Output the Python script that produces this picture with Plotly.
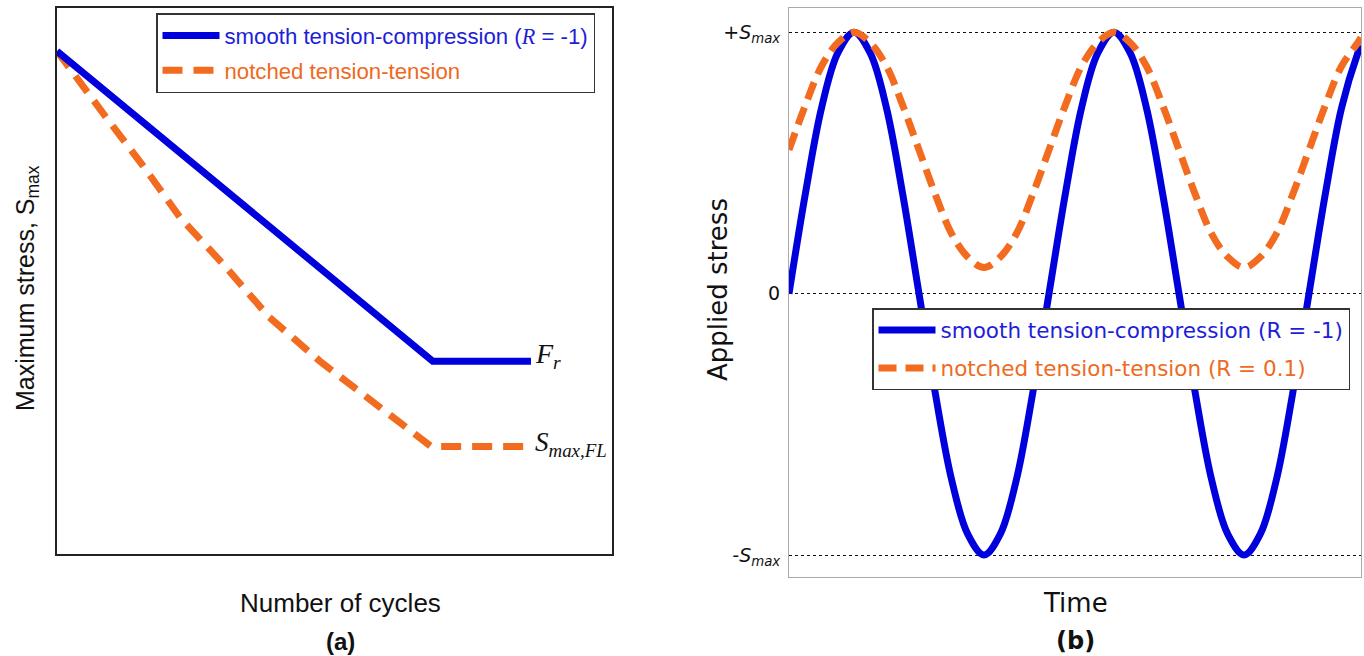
import plotly.graph_objects as go

W, H = 1364, 656
BLUE = "#0000DD"
ORANGE = "#F26B1F"
BLUE_TXT = "#1E1ED8"
ORANGE_TXT = "#EE6A1E"

# ---- panel (a): S-N style curves (arbitrary units) ----
cycles_smooth = [0.0, 67.7, 85.4]
stress_smooth = [92.1, 35.3, 35.3]
cycles_notched = [0.0, 3.2, 8.9, 15.5, 22.2, 30.2, 38.2, 47.5, 56.8, 66.1, 67.4, 85.4]
stress_notched = [92.1, 87.9, 79.9, 71.1, 61.6, 52.8, 43.4, 35.2, 27.8, 20.4, 19.7, 19.7]

# ---- panel (b): applied stress vs time (time in cycles, stress in S_max units) ----
time_b = [0.0, 0.0625, 0.125, 0.1875, 0.25, 0.3125, 0.375, 0.4375,
          0.5, 0.5625, 0.625, 0.6875, 0.75, 0.8125, 0.875, 0.9375,
          1.0, 1.0625, 1.125, 1.1875, 1.25, 1.3125, 1.375, 1.4375,
          1.5, 1.5625, 1.625, 1.6875, 1.75, 1.8125, 1.875, 1.9375,
          2.0, 2.0625, 2.125, 2.1875, 2.2]
stress_smooth_b = [0.0, 0.38, 0.71, 0.92, 1.0, 0.92, 0.71, 0.38,
                   0.0, -0.38, -0.71, -0.92, -1.0, -0.92, -0.71, -0.38,
                   0.0, 0.38, 0.71, 0.92, 1.0, 0.92, 0.71, 0.38,
                   0.0, -0.38, -0.71, -0.92, -1.0, -0.92, -0.71, -0.38,
                   0.0, 0.38, 0.71, 0.92, 0.95]
stress_notched_b = [0.55, 0.72, 0.87, 0.96, 1.0, 0.96, 0.87, 0.72,
                    0.55, 0.38, 0.23, 0.14, 0.1, 0.14, 0.23, 0.38,
                    0.55, 0.72, 0.87, 0.96, 1.0, 0.96, 0.87, 0.72,
                    0.55, 0.38, 0.23, 0.14, 0.1, 0.14, 0.23, 0.38,
                    0.55, 0.72, 0.87, 0.96, 0.98]
ytick_vals = [-1, 0, 1]
ytick_text = ["<i>-S<sub>max</sub></i>", "0", "<i>+S<sub>max</sub></i>"]


def px_x(p):
    return p / W


def px_y(p):
    return 1 - p / H


fig = go.Figure()

serifR = '<span style="font-family:Liberation Serif;font-style:italic;">R</span>'

# panel (a): orange drawn first so the blue line lies on top
fig.add_trace(go.Scatter(
    x=cycles_notched, y=stress_notched, mode="lines",
    line=dict(color=ORANGE, width=7, dash="20px,11px"),
    name=f'<span style="color:{ORANGE_TXT}">notched tension-tension</span>',
    xaxis="x", yaxis="y", legend="legend", legendgroup="a2", legendrank=2))
fig.add_trace(go.Scatter(
    x=cycles_smooth, y=stress_smooth, mode="lines",
    line=dict(color=BLUE, width=7),
    name=f'<span style="color:{BLUE_TXT}">smooth tension-compression ({serifR} = -1)</span>',
    xaxis="x", yaxis="y", legend="legend", legendgroup="a1", legendrank=1))

# panel (b)
fig.add_trace(go.Scatter(
    x=time_b, y=stress_smooth_b, mode="lines",
    line=dict(color=BLUE, width=7, shape="spline", smoothing=1),
    name=f'<span style="color:{BLUE_TXT}">smooth tension-compression (R = -1)</span>',
    xaxis="x2", yaxis="y2", legend="legend2", legendgroup="b1", legendrank=1))
fig.add_trace(go.Scatter(
    x=time_b, y=stress_notched_b, mode="lines",
    line=dict(color=ORANGE, width=7, dash="18px,9px", shape="spline", smoothing=1),
    name=f'<span style="color:{ORANGE_TXT}">notched tension-tension (R = 0.1)</span>',
    xaxis="x2", yaxis="y2", legend="legend2", legendgroup="b2", legendrank=2))

fig.update_layout(
    width=W, height=H,
    margin=dict(l=0, r=0, t=0, b=0),
    paper_bgcolor="white", plot_bgcolor="white",
    showlegend=True,
    xaxis=dict(domain=[px_x(57), px_x(612)], range=[0, 100],
               showgrid=False, zeroline=False, showticklabels=False, ticks="",
               showline=True, linecolor="#222", linewidth=1.5, mirror=True),
    yaxis=dict(domain=[px_y(554), px_y(8)], range=[0, 100],
               showgrid=False, zeroline=False, showticklabels=False, ticks="",
               showline=True, linecolor="#222", linewidth=1.5, mirror=True),
    xaxis2=dict(domain=[px_x(789), px_x(1361)], range=[0, 2.2], anchor="y2",
                showgrid=False, zeroline=False, showticklabels=False, ticks="",
                showline=True, linecolor="#aaaaaa", linewidth=1, mirror=True),
    yaxis2=dict(domain=[px_y(577), px_y(8)], range=[-1.084, 1.093], anchor="x2",
                tickvals=ytick_vals, ticktext=ytick_text,
                tickfont=dict(family="DejaVu Sans", size=19, color="#111"),
                showgrid=True, gridcolor="#111", gridwidth=1, griddash="dot",
                zeroline=False, ticks="", ticklabelstandoff=4,
                showline=True, linecolor="#aaaaaa", linewidth=1, mirror=True),
    legend=dict(x=px_x(156), y=px_y(13), xanchor="left", yanchor="top",
                bgcolor="white", bordercolor="#333", borderwidth=1.5,
                font=dict(family="Liberation Sans", size=22.2),
                itemwidth=57, tracegroupgap=3, traceorder="grouped"),
    legend2=dict(x=px_x(872), y=px_y(308), xanchor="left", yanchor="top",
                 bgcolor="white", bordercolor="#333", borderwidth=1.5,
                 font=dict(family="DejaVu Sans", size=21.5),
                 itemwidth=57, tracegroupgap=7, traceorder="grouped"),
)

ann = [
    dict(text="<i>F<sub>r</sub></i>", x=85.8, y=35.3, xref="x", yref="y",
         xanchor="left", yanchor="middle", yshift=6,
         font=dict(family="Liberation Serif", size=28, color="#111")),
    dict(text="<i>S<sub>max,FL</sub></i>", x=85.8, y=19.7, xref="x", yref="y",
         xanchor="left", yanchor="middle", yshift=2,
         font=dict(family="Liberation Serif", size=27, color="#111")),
    dict(text="Maximum stress, S<sub>max</sub>", x=px_x(27), y=px_y(288),
         textangle=-90, font=dict(family="Liberation Sans", size=25, color="#111")),
    dict(text="Number of cycles", x=px_x(340), y=px_y(603),
         font=dict(family="Liberation Sans", size=26, color="#111")),
    dict(text="<b>(a)</b>", x=px_x(340), y=px_y(641),
         font=dict(family="Liberation Sans", size=24, color="#111")),
    dict(text="Applied stress", x=px_x(718), y=px_y(290), textangle=-90,
         font=dict(family="DejaVu Sans", size=26, color="#111")),
    dict(text="Time", x=px_x(1075), y=px_y(603),
         font=dict(family="DejaVu Sans", size=26, color="#111")),
    dict(text="<b>(b)</b>", x=px_x(1075), y=px_y(641),
         font=dict(family="DejaVu Sans", size=24, color="#111")),
]
for a in ann:
    a.setdefault("xref", "paper")
    a.setdefault("yref", "paper")
    a.setdefault("xanchor", "center")
    a.setdefault("yanchor", "middle")
    a["showarrow"] = False
fig.update_layout(annotations=ann)

fig.write_html("out.html")
